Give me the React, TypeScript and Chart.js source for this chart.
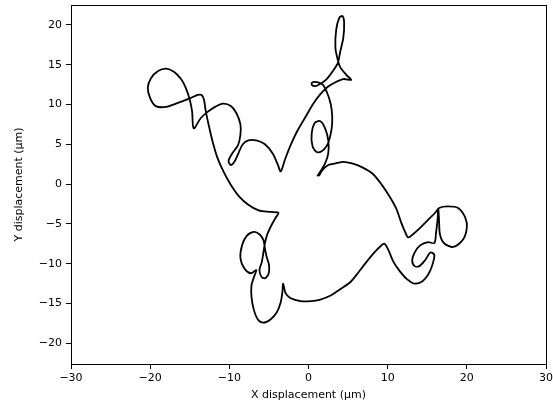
import React, { useEffect, useRef } from "react";
import { Chart, registerables } from "chart.js";

Chart.register(...registerables);

// Trajectory (µm), in drawing order
const xValues: number[] = [
  1.3, 1.8, 2.5, 3.4, 4.4, 5.5, 6.8, 8.1, 9.2, 10.2, 11.1, 11.7, 12.2, 12.6, 13.2, 14.1, 15.1, 16.0, 16.5,
  17.6, 18.9, 19.8, 20.0, 19.5, 18.3, 17.1, 16.6, 16.5, 16.4,
  16.3, 16.1, 15.9, 15.1, 14.1, 13.4, 13.1, 13.4, 14.0, 14.7, 15.4,
  15.9, 15.6, 15.1, 14.4, 13.4, 12.4, 11.5, 10.7, 10.1, 9.6,
  9.1, 8.3, 7.3, 6.3, 5.3, 4.0, 2.8, 1.5, 0.3, -1.0, -2.3, -2.9, -3.2,
  -3.3, -3.5, -4.0, -4.8, -5.7, -6.4, -6.9, -7.2, -7.2, -6.9, -6.6,
  -7.3, -8.1, -8.6, -8.4, -7.8, -6.9, -6.2, -5.7, -5.5,
  -5.3, -5.0, -5.0, -5.4, -5.9, -6.2, -5.9,
  -5.7, -5.5, -5.2, -4.7, -4.2, -3.8,
  -4.8, -6.3, -7.6, -8.8, -9.8, -10.7, -11.5, -12.1, -12.6, -13.0, -13.2, -13.5,
  -14.0, -14.9, -16.5, -18.0, -19.3, -20.0, -20.3, -19.9, -19.0, -18.0, -17.0, -16.1, -15.5, -15.0, -14.7, -14.5,
  -13.6, -12.7, -11.8, -10.8, -9.8, -9.1, -8.6, -8.6, -8.9, -9.6, -10.1, -9.8, -9.3, -8.8, -8.3,
  -7.6, -6.6, -5.5, -4.5, -3.9, -3.5,
  -3.0, -2.3, -1.4, -0.4, 0.6, 1.5, 2.4, 3.4, 4.4, 5.4,
  4.8, 4.0, 3.7, 3.4, 3.5, 3.9, 4.3, 4.5, 4.4, 4.0, 3.7, 3.0, 2.3, 1.5,
  0.9, 0.4, 0.5, 1.1, 1.8,
  2.3, 2.8, 3.0, 2.9, 2.5, 1.9,
  1.1, 0.5, 0.4, 0.8, 1.5, 2.1, 2.5, 2.5, 2.1, 1.5, 1.1,
];

const yValues: number[] = [
  1.0, 1.8, 2.4, 2.6, 2.8, 2.6, 2.1, 1.3, 0.0, -1.5, -3.1, -4.8, -6.0, -6.7, -6.3, -5.5, -4.5, -3.6, -3.0,
  -2.8, -3.0, -4.2, -5.5, -7.0, -7.9, -7.4, -6.3, -4.8, -3.1,
  -4.5, -6.2, -7.4, -7.3, -7.7, -8.6, -9.6, -10.3, -10.3, -9.6, -8.6,
  -8.9, -10.3, -11.4, -12.2, -12.5, -11.9, -10.9, -9.7, -8.3, -7.5,
  -7.8, -8.6, -9.8, -11.1, -12.3, -13.2, -14.0, -14.5, -14.7, -14.7, -14.3, -13.7, -12.5,
  -13.6, -14.8, -16.1, -17.0, -17.4, -17.0, -15.8, -14.2, -12.7, -11.7, -10.8,
  -11.2, -10.6, -9.3, -7.7, -6.5, -6.0, -6.3, -7.0, -8.1,
  -9.1, -10.1, -11.1, -11.8, -11.7, -10.8, -9.8,
  -8.6, -7.4, -6.3, -5.2, -4.3, -3.6,
  -3.5, -3.3, -2.6, -1.5, -0.1, 1.5, 3.3, 5.3, 7.4, 9.3, 10.6, 11.2,
  11.2, 10.8, 10.2, 9.7, 9.8, 10.8, 12.1, 13.3, 14.2, 14.5, 14.1, 13.2, 12.1, 10.6, 9.1, 7.0,
  8.3, 9.1, 9.7, 10.1, 9.8, 8.9, 7.5, 6.2, 4.9, 3.9, 2.9, 2.4, 2.9, 4.0, 5.0,
  5.5, 5.5, 5.0, 3.8, 2.5, 1.6,
  3.0, 4.8, 6.7, 8.4, 10.1, 11.3, 12.2, 12.8, 13.2, 13.1,
  13.7, 14.7, 15.6, 17.1, 19.4, 20.9, 21.1, 20.3, 18.4, 16.6, 15.2, 14.1, 13.2, 12.6,
  12.3, 12.5, 12.8, 12.8, 12.5,
  11.6, 10.1, 8.4, 6.8, 5.2, 4.3,
  4.0, 4.8, 6.3, 7.7, 7.9, 7.0, 5.5, 3.9, 2.6, 1.6, 1.0,
];

const xTicks = [-30, -20, -10, 0, 10, 20, 30];
const yTicks = [-20, -15, -10, -5, 0, 5, 10, 15, 20];
const xRange = [-30, 30];
const yRange = [-22.6, 22.5];
const xTitle = "X displacement (μm)";
const yTitle = "Y displacement (μm)";

const fmt = (v: number) => (v < 0 ? "\u2212" + Math.abs(v) : String(v));

const align = (v: number) => Math.round(v - 0.5) + 0.5;

const framePlugin = {
  id: "frame",
  afterDatasetsDraw(chart: any) {
    const { ctx, chartArea: a } = chart;
    ctx.save();
    ctx.strokeStyle = "#000";
    ctx.lineWidth = 1;
    const l = align(a.left);
    const t = align(a.top);
    const r = align(a.right);
    const b = align(a.bottom);
    ctx.strokeRect(l, t, r - l, b - t);
    ctx.restore();
  },
};

export default function App() {
  const ref = useRef<HTMLCanvasElement | null>(null);
  useEffect(() => {
    if (!ref.current) return;
    const pts = xValues.map((x, i) => ({ x, y: yValues[i] }));
    const font = { family: "'DejaVu Sans', sans-serif", size: 11 };
    const chart = new Chart(ref.current, {
      type: "scatter",
      data: {
        datasets: [
          {
            data: pts,
            showLine: true,
            borderColor: "#000",
            borderWidth: 1.8,
            pointRadius: 0,
            tension: 0.3,
            fill: false,
          },
        ],
      },
      options: {
        animation: false,
        responsive: false,
        devicePixelRatio: 1,
        layout: { padding: { left: 0, right: 7, top: 5, bottom: 0 } },
        plugins: { legend: { display: false }, tooltip: { enabled: false } },
        scales: {
          x: {
            type: "linear",
            min: xRange[0],
            max: xRange[1],
            afterBuildTicks: (s: any) => {
              s.ticks = xTicks.map((v) => ({ value: v }));
            },
            afterFit: (s: any) => {
              s.height = 43;
              s.paddingLeft = 0;
              s.paddingRight = 0;
            },
            ticks: { color: "#000", font, padding: 3, callback: (v: any) => fmt(Number(v)), maxRotation: 0, autoSkip: false },
            grid: { drawOnChartArea: false, drawTicks: true, tickLength: 5, color: "#000", lineWidth: 1 },
            border: { display: false },
            title: { display: true, text: xTitle, color: "#000", font, padding: { top: 0, bottom: 5 } },
          },
          y: {
            type: "linear",
            min: yRange[0],
            max: yRange[1],
            afterBuildTicks: (s: any) => {
              s.ticks = yTicks.map((v) => ({ value: v }));
            },
            afterFit: (s: any) => {
              s.width = 71;
              s.paddingTop = 0;
              s.paddingBottom = 0;
            },
            ticks: { color: "#000", font, padding: 4, callback: (v: any) => fmt(Number(v)), autoSkip: false },
            grid: { drawOnChartArea: false, drawTicks: true, tickLength: 5, color: "#000", lineWidth: 1 },
            border: { display: false },
            title: { display: true, text: yTitle, color: "#000", font, padding: { top: 13, bottom: 0 } },
          },
        },
      },
      plugins: [framePlugin],
    });
    return () => chart.destroy();
  }, []);
  return (
    <div style={{ position: "absolute", left: 0, top: 0, width: 553, height: 407, background: "#fff" }}>
      <canvas ref={ref} width={553} height={407} style={{ width: 553, height: 407, display: "block" }} />
    </div>
  );
}
